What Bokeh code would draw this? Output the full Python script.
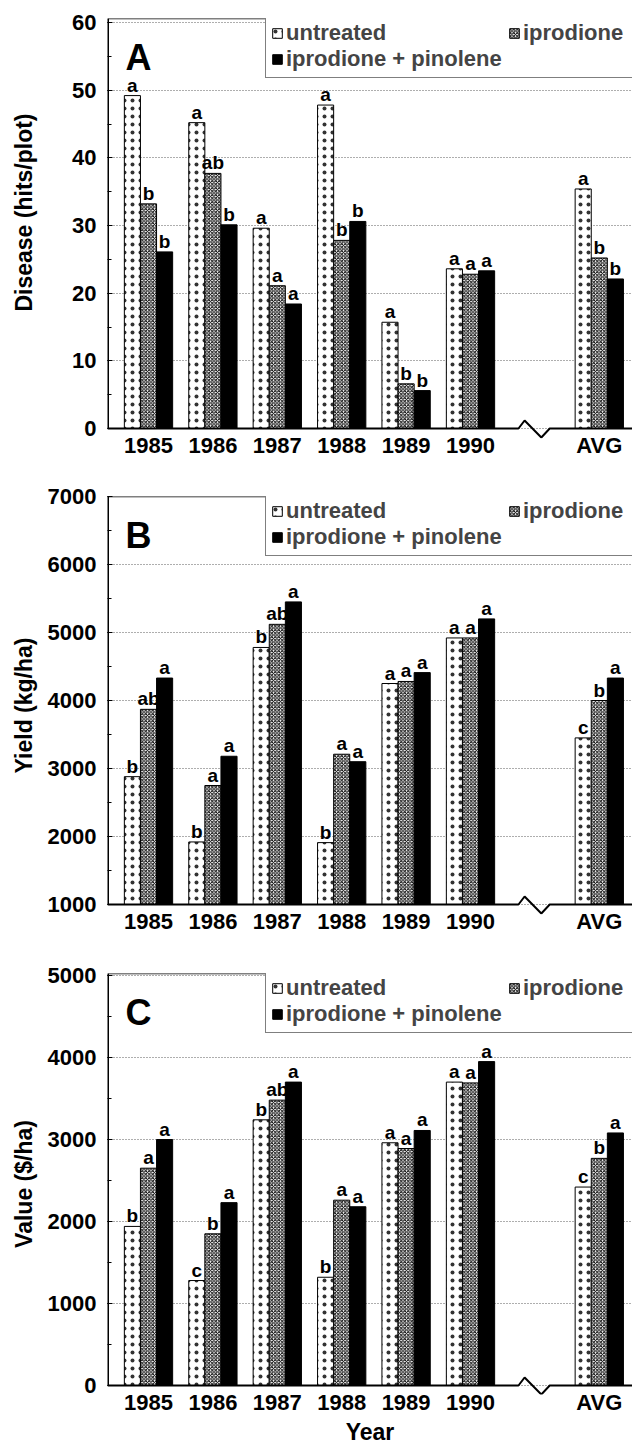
from bokeh.plotting import figure
from bokeh.layouts import column
from bokeh.models import (Range1d, FixedTicker, SingleIntervalTicker, Span, Label,
                          Legend, LegendItem)
from bokeh.core.properties import value
from bokeh.embed import file_html
from bokeh.resources import INLINE

# ---------------- data ----------------
years = ["1985", "1986", "1987", "1988", "1989", "1990", "AVG"]
treatments = ["untreated", "iprodione", "iprodione + pinolene"]

disease_untreated = [49.2, 45.2, 29.6, 47.8, 15.7, 23.6, 35.4]
disease_iprodione = [33.2, 37.7, 21.1, 27.8, 6.6, 22.8, 25.2]
disease_pinolene = [26.1, 30.1, 18.4, 30.6, 5.6, 23.3, 22.1]
disease_let_untreated = ["a", "a", "a", "a", "a", "a", "a"]
disease_let_iprodione = ["b", "ab", "a", "b", "b", "a", "b"]
disease_let_pinolene = ["b", "b", "a", "b", "b", "a", "b"]

yield_untreated = [2880, 1920, 4780, 1910, 4250, 4920, 3450]
yield_iprodione = [3870, 2750, 5120, 3210, 4280, 4920, 4000]
yield_pinolene = [4330, 3180, 5450, 3100, 4410, 5200, 4330]
yield_let_untreated = ["b", "b", "b", "b", "a", "a", "c"]
yield_let_iprodione = ["ab", "a", "ab", "a", "a", "a", "b"]
yield_let_pinolene = ["a", "a", "a", "a", "a", "a", "a"]

value_untreated = [1940, 1280, 3240, 1320, 2960, 3700, 2420]
value_iprodione = [2650, 1850, 3480, 2260, 2890, 3690, 2770]
value_pinolene = [3000, 2230, 3700, 2180, 3110, 3950, 3080]
value_let_untreated = ["b", "c", "b", "b", "a", "a", "c"]
value_let_iprodione = ["a", "b", "ab", "a", "a", "a", "b"]
value_let_pinolene = ["a", "a", "a", "a", "a", "a", "a"]

# ---------------- layout ----------------
FONT = "Liberation Sans"
nb = len(years)
slot = [i if i < nb - 1 else i + 1 for i in range(nb)]   # AVG placed after a break slot
brk = nb - 1

W = 632
LEFT = 107
SLOT_PX = 64.4
X0 = -41 / SLOT_PX
X1 = X0 + (W - LEFT) / SLOT_PX
BAR_W = 0.25
offsets = [-BAR_W, 0.0, BAR_W]

styles = [
    dict(fill_color="white", line_color="black", line_width=1,
         hatch_pattern="dot", hatch_scale=8, hatch_alpha=0.8, hatch_color="black"),
    dict(fill_color="white", line_color="black", line_width=1,
         hatch_pattern="x", hatch_scale=3.5, hatch_weight=1.0, hatch_color="black"),
    dict(fill_color="black", line_color="black", line_width=1),
]


def panel(tag, ylabel, series, letters, base_val, base_px, tick_val, tick_px,
          fig_top, frame_top, frame_bottom, fig_bottom, interval, ylab_standoff,
          xlabel=None):
    ppu = (base_px - tick_px) / (tick_val - base_val)
    y_end = base_val + (base_px - frame_top) / ppu
    y_start = base_val - (frame_bottom - base_px) / ppu
    p = figure(width=W, height=fig_bottom - fig_top,
               x_range=Range1d(X0, X1), y_range=Range1d(y_start, y_end),
               min_border_left=LEFT, min_border_right=0,
               min_border_top=frame_top - fig_top,
               min_border_bottom=fig_bottom - frame_bottom,
               output_backend="svg", toolbar_location=None)
    p.outline_line_color = None
    p.background_fill_color = "white"
    p.border_fill_color = "white"
    p.xgrid.visible = False

    # y axis
    p.yaxis.ticker = SingleIntervalTicker(interval=interval, num_minor_ticks=2)
    p.yaxis.axis_line_color = None
    p.yaxis.major_tick_in = 5
    p.yaxis.major_tick_out = 0
    p.yaxis.minor_tick_in = 4
    p.yaxis.minor_tick_out = 0
    p.yaxis.major_tick_line_width = 1.2
    p.yaxis.minor_tick_line_width = 1.2
    p.yaxis.major_label_standoff = 11
    p.yaxis.major_label_text_font = FONT
    p.yaxis.major_label_text_font_style = "bold"
    p.yaxis.major_label_text_font_size = "22px"
    p.yaxis.major_label_text_color = "black"
    p.yaxis.axis_label = ylabel
    p.yaxis.axis_label_text_font = FONT
    p.yaxis.axis_label_text_font_style = "bold"
    p.yaxis.axis_label_text_font_size = "23px"
    p.yaxis.axis_label_text_color = "black"
    p.yaxis.axis_label_standoff = ylab_standoff
    p.ygrid.grid_line_color = "#333333"
    p.ygrid.grid_line_dash = "1 2"
    p.ygrid.grid_line_width = 0.8

    # x axis
    p.xaxis.ticker = FixedTicker(ticks=slot)
    p.xaxis.major_label_overrides = {s: y for s, y in zip(slot, years)}
    p.xaxis.axis_line_color = None
    p.xaxis.major_tick_line_color = None
    p.xaxis.minor_tick_line_color = None
    p.xaxis.major_tick_out = 0
    p.xaxis.major_tick_in = 0
    p.xaxis.minor_tick_out = 0
    p.xaxis.minor_tick_in = 0
    p.xaxis.major_label_standoff = -(frame_bottom - base_px) + 4
    p.xaxis.major_label_text_font = FONT
    p.xaxis.major_label_text_font_style = "bold"
    p.xaxis.major_label_text_font_size = "22px"
    p.xaxis.major_label_text_color = "black"
    if xlabel:
        p.xaxis.axis_label = xlabel
        p.xaxis.axis_label_text_font = FONT
        p.xaxis.axis_label_text_font_style = "bold"
        p.xaxis.axis_label_text_font_size = "23px"
        p.xaxis.axis_label_text_color = "black"
        p.xaxis.axis_label_standoff = 1

    # bars
    rends = []
    for vals, lets, off, st in zip(series, letters, offsets, styles):
        xs = [s + off for s in slot]
        r = p.vbar(x=xs, top=vals, bottom=base_val, width=BAR_W, **st)
        rends.append(r)
        p.text(x=xs, y=vals, text=lets, text_align="center",
               text_baseline="bottom", y_offset=0,
               text_font=value(FONT), text_font_style="bold",
               text_font_size="19px", text_color="black")

    # frame: left line, top line, bottom line with axis break
    p.segment(x0=[X0], y0=[base_val], x1=[X0], y1=[y_end], line_color="black",
              line_width=3)
    p.add_layout(Span(location=y_end, dimension="width", line_color="black",
                      line_width=1.5))
    up = 8 / ppu
    dn = 9 / ppu
    bx = [X0, brk - 0.255, brk - 0.16, brk + 0.10, brk + 0.23, X1]
    by = [base_val, base_val, base_val + up, base_val - dn, base_val, base_val]
    p.line(bx, by, line_color="black", line_width=2)

    # panel letter
    p.add_layout(Label(x=X0 + 18 / SLOT_PX, y=y_end - 18 / ppu, text=tag,
                       text_font=FONT, text_font_style="bold",
                       text_font_size="36px", text_baseline="top",
                       text_color="black"))

    # legend
    items = [LegendItem(label=t, renderers=[r]) for t, r in zip(treatments, rends)]
    leg = Legend(items=items, orientation="horizontal", ncols=2,
                 location=(158, frame_bottom - frame_top - 60),
                 label_text_font=FONT, label_text_font_style="bold",
                 label_text_font_size="22px", label_standoff=3,
                 glyph_width=12, glyph_height=12, label_width=222,
                 spacing=0, padding=5, margin=0,
                 border_line_color="black", border_line_width=1.3,
                 background_fill_color="white", background_fill_alpha=1.0)
    p.add_layout(leg)
    return p


NB = "\u00a0"
pA = panel("A", NB * 5 + "Disease (hits/plot)",
           [disease_untreated, disease_iprodione, disease_pinolene],
           [disease_let_untreated, disease_let_iprodione, disease_let_pinolene],
           0, 428, 60, 22, 0, 18, 438, 470, 10, 32)
pB = panel("B", "Yield (kg/ha)",
           [yield_untreated, yield_iprodione, yield_pinolene],
           [yield_let_untreated, yield_let_iprodione, yield_let_pinolene],
           1000, 904, 7000, 496, 470, 496, 914, 948, 1000, 8)
pC = panel("C", "Value ($/ha)",
           [value_untreated, value_iprodione, value_pinolene],
           [value_let_untreated, value_let_iprodione, value_let_pinolene],
           0, 1385, 5000, 975, 948, 973, 1394, 1447, 1000, 8, xlabel="Year")

layout = column(pA, pB, pC, spacing=0)
open("out.html", "w").write(file_html(layout, INLINE))
